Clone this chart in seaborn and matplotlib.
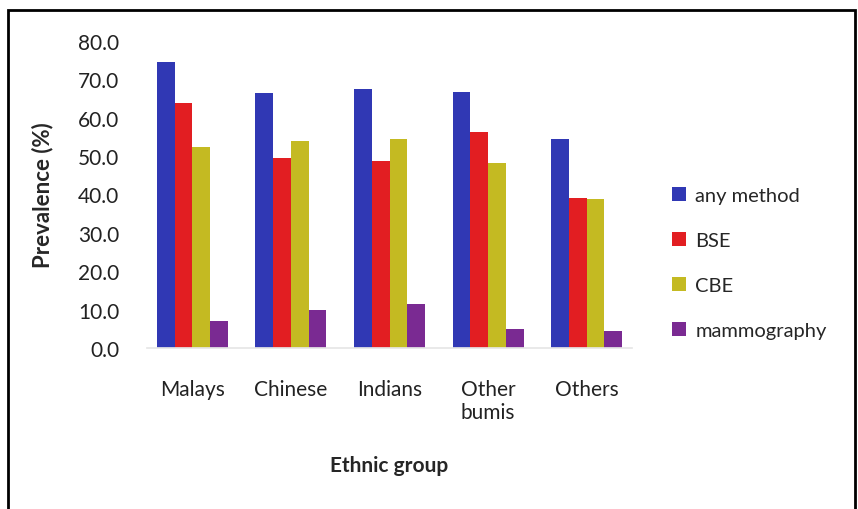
import pandas as pd
import numpy as np
import matplotlib
matplotlib.use('Agg')
import matplotlib.pyplot as plt
import seaborn as sns

groups = ['Malays', 'Chinese', 'Indians', 'Other\nbumis', 'Others']
methods = ['any method', 'BSE', 'CBE', 'mammography']
any_method = [74.5, 66.5, 67.4, 66.8, 54.4]
bse = [63.9, 49.5, 48.6, 56.3, 39.2]
cbe = [52.5, 54.0, 54.4, 48.2, 38.8]
mammography = [7.1, 10.0, 11.4, 5.0, 4.5]
yticks = [0, 10, 20, 30, 40, 50, 60, 70, 80]
colors = ['#3038B4', '#E21E22', '#C4BA22', '#7A2A92']

sns.set_theme(style='white')
plt.rcParams['font.family'] = ['Lato', 'DejaVu Sans']

df = pd.DataFrame({
    'group': groups * 4,
    'method': np.repeat(methods, len(groups)),
    'value': any_method + bse + cbe + mammography,
})

fig = plt.figure(figsize=(8.58, 5.10), dpi=100)
ax = fig.add_axes([147 / 858, 1 - 349 / 510, (632 - 147) / 858, (349 - 42) / 510])
sns.barplot(ax=ax, data=df, x='group', y='value', hue='method', palette=colors,
            width=0.72, saturation=1, linewidth=0, legend=True)

ax.set_ylim(0, 80)
ax.set_xlim(-0.46, 4.46)
ax.set_yticks(yticks)
ax.set_yticklabels(['%.1f' % t for t in yticks])
for s in ['top', 'right', 'left']:
    ax.spines[s].set_visible(False)
ax.spines['bottom'].set_color('#e6e6e6')
ax.tick_params(axis='y', length=0, pad=20, labelsize=15, labelcolor='#222222')
ax.tick_params(axis='x', length=0, pad=22, labelsize=15, labelcolor='#222222')
ax.set_ylabel('Prevalence (%)', fontsize=16, fontweight='bold', labelpad=18)
ax.set_xlabel('Ethnic group', fontsize=15, fontweight='bold', labelpad=24)

handles, labels = ax.get_legend_handles_labels()
ax.legend(handles, labels, loc='center left', bbox_to_anchor=(654 / 858, 1 - 264 / 510),
          bbox_transform=fig.transFigure, frameon=False, fontsize=14.5,
          handlelength=0.7, handleheight=0.7, handletextpad=0.45, labelspacing=1.38)

fig.patches.append(plt.Rectangle((8 / 858, -10 / 510), 847 / 858, (499 + 10) / 510,
                                 transform=fig.transFigure, fill=False,
                                 edgecolor='black', linewidth=2))
fig.savefig('out.png', dpi=100)
